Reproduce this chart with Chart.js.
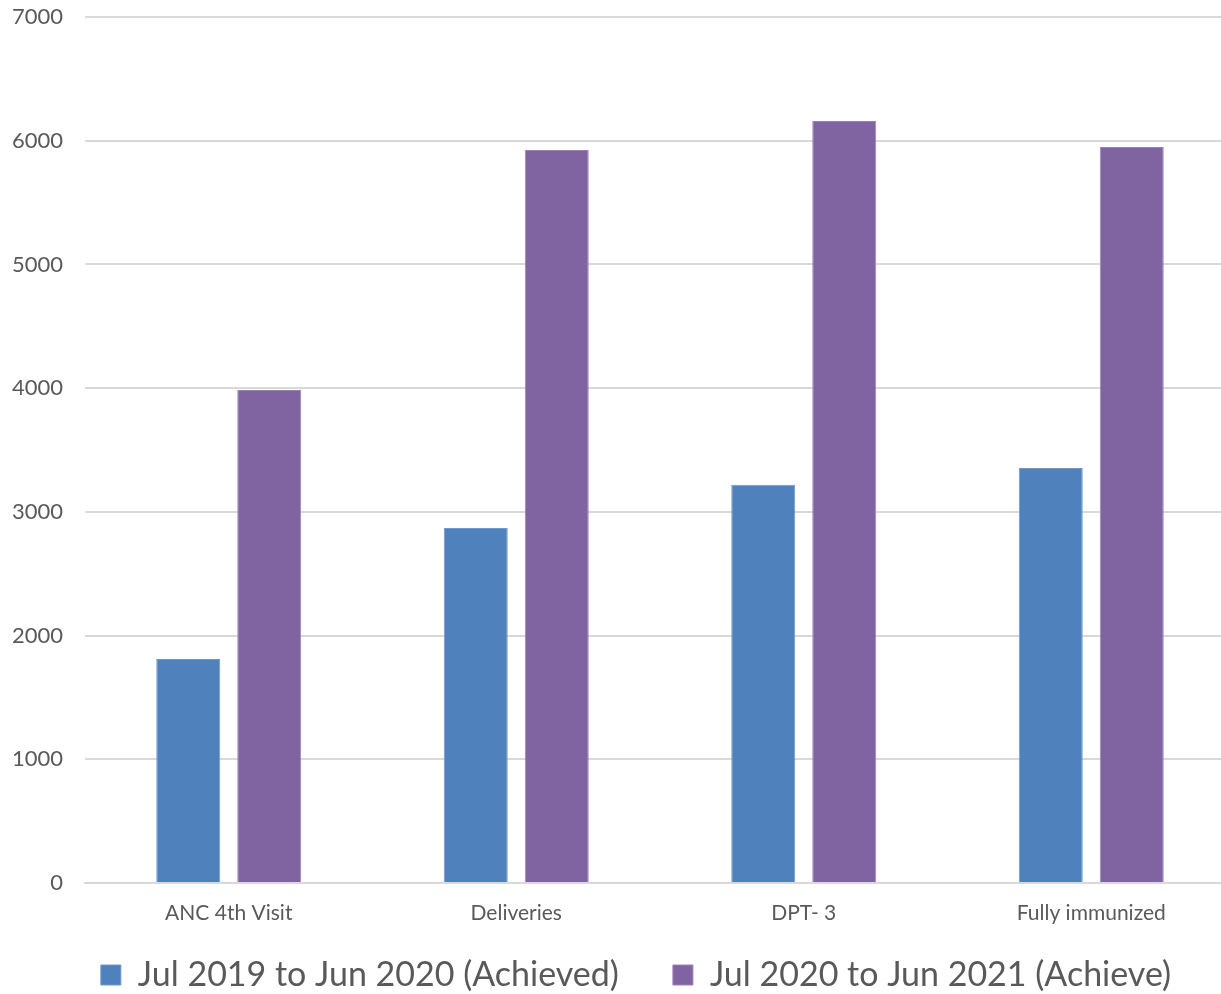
<!DOCTYPE html>
<html><head><meta charset="utf-8">
<script src="https://cdn.jsdelivr.net/npm/chart.js@4/dist/chart.umd.min.js"></script>
<style>html,body{margin:0;padding:0;background:#fff;overflow:hidden}#wrap{width:1221px;height:994px;overflow:hidden}</style>
</head><body><div id="wrap"><canvas id="c" width="1272" height="994"></canvas></div>
<script>
const categories = ["ANC 4th Visit", "Deliveries", "DPT- 3", "Fully immunized"];
const seriesNames = ["Jul 2019 to Jun 2020 (Achieved)", "Jul 2020 to Jun 2021 (Achieve)"];
const achieved2019 = [1810, 2870, 3220, 3355];
const achieved2020 = [3985, 5925, 6160, 5950];
const yTicks = [0, 1000, 2000, 3000, 4000, 5000, 6000, 7000];

const FONT = "Lato";
const LEGEND_H = 59;      // space reserved for the legend below the axis labels
const LEGEND_DRAW_H = 90; // legend drawn in the bottom 90px (padding doubles as item gap)

const legendPlacement = {
  id: 'legendPlacement',
  beforeUpdate(chart) {
    const lg = chart.legend;
    if (lg && !lg._patched) {
      const orig = lg.fit.bind(lg);
      lg.fit = function () { orig(); this.height = LEGEND_H; };
      lg._patched = true;
    }
  },
  afterLayout(chart) {
    const lg = chart.legend;
    if (lg) {
      lg.top = chart.height - LEGEND_DRAW_H; lg.bottom = chart.height;
      lg.left = 0; lg.right = chart.width; lg.width = chart.width;
    }
  }
};

new Chart(document.getElementById('c'), {
  type: 'bar',
  data: {
    labels: categories,
    datasets: [
      {label: seriesNames[0], data: achieved2019, backgroundColor: '#4F81BD', borderColor: '#6F99CC', borderWidth: 1},
      {label: seriesNames[1], data: achieved2020, backgroundColor: '#8064A2', borderColor: '#9A82B8', borderWidth: 1}
    ]
  },
  plugins: [legendPlacement],
  options: {
    responsive: false, animation: false,
    categoryPercentage: 0.5635, barPercentage: 0.79,
    layout: {padding: {top: 17, right: 37, left: 0, bottom: 0}},
    plugins: {
      tooltip: {enabled: false},
      legend: {
        position: 'bottom',
        labels: {font: {family: FONT, size: 34}, color: '#595959', boxWidth: 20, boxHeight: 20, padding: 54}
      }
    },
    scales: {
      x: {
        afterFit: s => { s.height = 52; s.paddingLeft = 0; s.paddingRight = 0; },
        grid: {display: false, drawTicks: false},
        border: {display: true, color: '#d9d9d9', width: 2},
        ticks: {font: {family: FONT, size: 21}, color: '#595959', padding: 18, maxRotation: 0, autoSkip: false}
      },
      y: {
        min: 0, max: 7000,
        afterBuildTicks: s => { s.ticks = yTicks.map(v => ({value: v})); },
        afterFit: s => { s.width = 85; s.paddingTop = 0; s.paddingBottom = 0; },
        grid: {color: '#d9d9d9', lineWidth: 2, drawTicks: false},
        border: {display: false},
        ticks: {font: {family: FONT, size: 22}, color: '#595959', padding: 22, callback: v => String(v)}
      }
    }
  }
});
</script></body></html>
